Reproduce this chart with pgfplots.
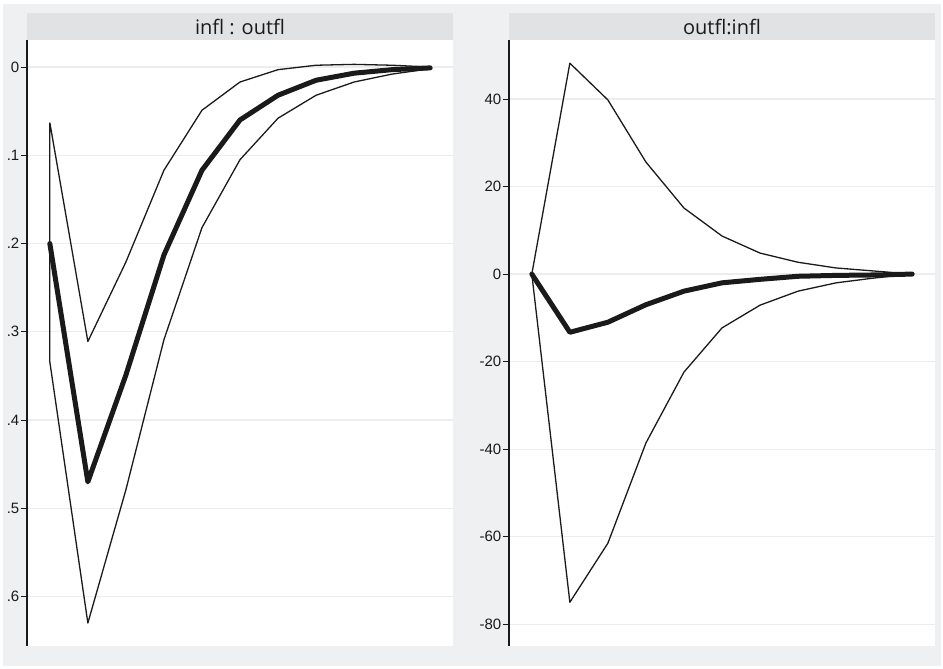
\documentclass[border=0pt]{standalone}
\usepackage{pgfplots}
\pgfplotsset{compat=1.18}
\usepackage{fontspec}
\setmainfont{Liberation Sans}
\newfontfamily\titlefont{Open Sans}
\definecolor{bg}{HTML}{EEF0F2}
\definecolor{titlebg}{HTML}{E1E2E4}
\definecolor{gridc}{HTML}{ECEDEF}
\definecolor{linec}{HTML}{1A1A1A}
\pgfplotsset{
  irfax/.style={
    scale only axis, width=426pt, height=606pt, anchor=north west,
    xmin=-0.6, xmax=10.6,
    axis x line=none, axis y line*=left,
    axis line style={linec, line width=1.3pt},
    axis background/.style={fill=white},
    ymajorgrids, major grid style={gridc, line width=1.2pt},
    tick align=outside, major tick length=6pt,
    ytick style={linec, line width=0.9pt},
    yticklabel style={font=\fontsize{15}{17}\selectfont, text=linec, inner sep=1.5pt},
    /pgf/number format/assume math mode=true,
    clip=false,
  },
  band/.style={linec, line width=1.3pt, line join=round},
  irf/.style={linec, line width=5pt, line join=round, line cap=round},
}
\begin{document}
\begin{tikzpicture}[x=1pt,y=1pt]
\fill[white] (0,0) rectangle (943,-669);
\fill[bg] (3,-4) rectangle (941,-666);
\fill[titlebg] (27,-13) rectangle (453,-40);
\fill[titlebg] (509,-13) rectangle (935,-40);
\node[font=\titlefont\fontsize{20}{22}\selectfont, text=linec] at (240,-26.5) {infl : outfl};
\node[font=\titlefont\fontsize{20}{22}\selectfont, text=linec] at (722,-26.5) {outfl:infl};

\begin{axis}[irfax, at={(27pt,-40pt)},
  ymin=-0.656, ymax=0.0306,
  ytick={-0.6,-0.5,-0.4,-0.3,-0.2,-0.1,0},
  yticklabels={.6,.5,.4,.3,.2,.1,0}]
\addplot[band] coordinates {
 (0,-0.063) (1,-0.311) (2,-0.221) (3,-0.117) (4,-0.049) (5,-0.017)
 (6,-0.003) (7,0.002) (8,0.003) (9,0.002) (10,0.000)
 (10,-0.002) (9,-0.008) (8,-0.017) (7,-0.032) (6,-0.058) (5,-0.105)
 (4,-0.182) (3,-0.309) (2,-0.479) (1,-0.630) (0,-0.334) (0,-0.063)};
\addplot[irf] coordinates {
 (0,-0.200) (1,-0.470) (2,-0.349) (3,-0.213) (4,-0.117) (5,-0.060)
 (6,-0.032) (7,-0.015) (8,-0.007) (9,-0.003) (10,-0.001)};
\end{axis}

\begin{axis}[irfax, at={(509pt,-40pt)},
  ymin=-85, ymax=53.5,
  ytick={-80,-60,-40,-20,0,20,40},
  yticklabels={-80,-60,-40,-20,0,20,40}]
\addplot[band] coordinates {
 (0,0) (1,48.2) (2,39.8) (3,25.6) (4,15.1) (5,8.7)
 (6,4.8) (7,2.7) (8,1.4) (9,0.7) (10,0)
 (9,-0.9) (8,-2.0) (7,-3.9) (6,-7.1) (5,-12.3)
 (4,-22.4) (3,-38.6) (2,-61.5) (1,-75.0) (0,0)};
\addplot[irf] coordinates {
 (0,0) (1,-13.3) (2,-11.0) (3,-7.0) (4,-3.9) (5,-2.0)
 (6,-1.2) (7,-0.5) (8,-0.3) (9,-0.2) (10,0)};
\end{axis}
\end{tikzpicture}
\end{document}
